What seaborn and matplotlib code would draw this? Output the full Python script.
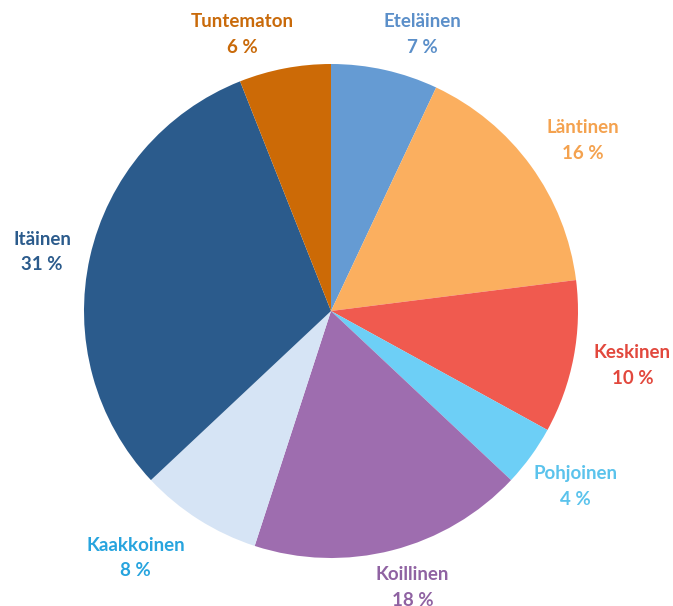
import matplotlib
matplotlib.use("Agg")
import matplotlib.pyplot as plt
import seaborn as sns

# Data
regions = ["Eteläinen", "Läntinen", "Keskinen", "Pohjoinen",
           "Koillinen", "Kaakkoinen", "Itäinen", "Tuntematon"]
shares = [7, 16, 10, 4, 18, 8, 31, 6]

# Styles
slice_colors = ["#659BD3", "#FBAF5F", "#F05A4F", "#6DCFF6",
                "#9E6DAF", "#D6E4F5", "#2B5B8C", "#CC6A06"]
label_colors = ["#5B8FC9", "#F4A24F", "#E2483D", "#5BC3EC",
                "#8F62A2", "#27A4DE", "#2B5B8C", "#C96A0A"]
# label centre offsets from pie centre (in radius units), layout only
label_pos = [(0.37, 1.12), (1.02, 0.69), (1.22, -0.22), (0.99, -0.71),
             (0.33, -1.12), (-0.79, -1.00), (-1.17, 0.24), (-0.36, 1.12)]

sns.set_theme(style="white")
plt.rcParams['font.family'] = ['Lato', 'DejaVu Sans']

fig = plt.figure(figsize=(6.73, 6.06), dpi=100)
ax = fig.add_axes([0, 0, 1, 1])
wedges, _ = ax.pie(shares, colors=slice_colors, startangle=90, counterclock=False,
                   radius=1.0, wedgeprops=dict(linewidth=0))
for name, val, col, (x, y) in zip(regions, shares, label_colors, label_pos):
    ax.text(x, y, f"{name}\n{val} %", ha="center", va="center", color=col,
            fontsize=13.5, fontweight="bold", linespacing=1.6)
ax.set_xlim(-331 / 247, (673 - 331) / 247)
ax.set_ylim(-(606 - 311) / 247, 311 / 247)
ax.set_aspect("auto")
ax.axis("off")
fig.savefig("out.png", dpi=100)
